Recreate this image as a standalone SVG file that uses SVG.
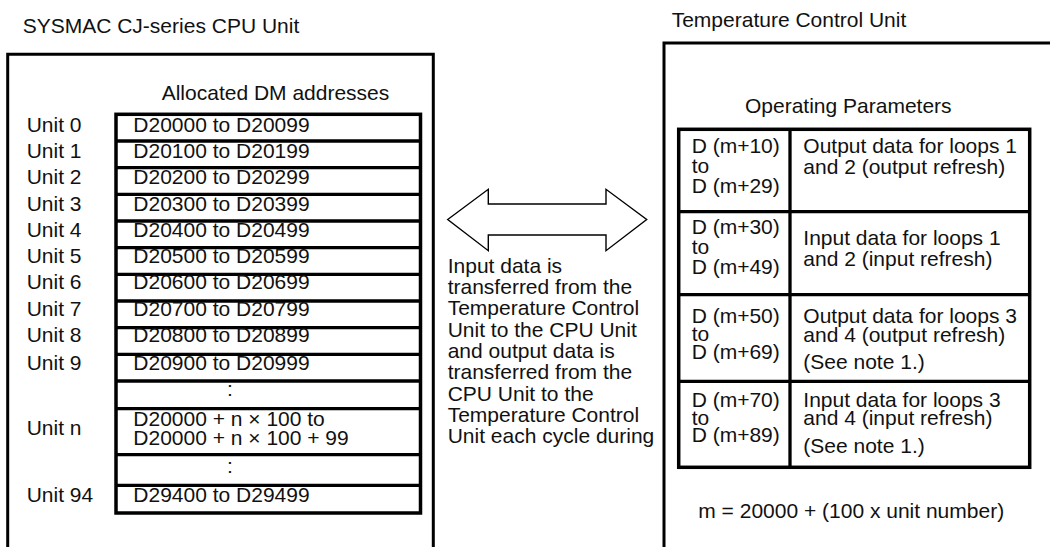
<svg xmlns="http://www.w3.org/2000/svg" width="1050" height="547" viewBox="0 0 1050 547">
<style>
text{font-family:"Liberation Sans",Arial,Helvetica,sans-serif;font-size:21px;fill:#111}
.box{fill:none;stroke:#000;stroke-width:3}
.tbl{fill:none;stroke:#000;stroke-width:3.5}
.sep{stroke:#000;stroke-width:3.3}
.arrow{fill:#fff;stroke:#000;stroke-width:1.4;stroke-linejoin:miter}
.mid{text-anchor:middle}
</style>
<rect width="1050" height="547" fill="#fff"/>

<g id="cpu-unit">
  <text x="22.7" y="33.3">SYSMAC CJ-series CPU Unit</text>
  <path class="box" d="M7.7,548 V54.3 H433.3 V548"/>
  <text x="161.7" y="100">Allocated DM addresses</text>
</g>

<g id="dm-table">
  <rect class="tbl" x="116" y="114.3" width="304.5" height="398.7"/>
  <g class="sep">
    <line x1="116" y1="141" x2="420.5" y2="141"/>
    <line x1="116" y1="167.7" x2="420.5" y2="167.7"/>
    <line x1="116" y1="194.3" x2="420.5" y2="194.3"/>
    <line x1="116" y1="221" x2="420.5" y2="221"/>
    <line x1="116" y1="247.7" x2="420.5" y2="247.7"/>
    <line x1="116" y1="274.3" x2="420.5" y2="274.3"/>
    <line x1="116" y1="301" x2="420.5" y2="301"/>
    <line x1="116" y1="327.7" x2="420.5" y2="327.7"/>
    <line x1="116" y1="354.3" x2="420.5" y2="354.3"/>
    <line x1="116" y1="381" x2="420.5" y2="381"/>
    <line x1="116" y1="408.7" x2="420.5" y2="408.7"/>
    <line x1="116" y1="454.7" x2="420.5" y2="454.7"/>
    <line x1="116" y1="485.3" x2="420.5" y2="485.3"/>
  </g>
  <text x="26.7" y="131.7">Unit 0</text><text x="133.3" y="131.7">D20000 to D20099</text>
  <text x="26.7" y="158">Unit 1</text><text x="133.3" y="158">D20100 to D20199</text>
  <text x="26.7" y="184.2">Unit 2</text><text x="133.3" y="184.2">D20200 to D20299</text>
  <text x="26.7" y="210.5">Unit 3</text><text x="133.3" y="210.5">D20300 to D20399</text>
  <text x="26.7" y="236.7">Unit 4</text><text x="133.3" y="236.7">D20400 to D20499</text>
  <text x="26.7" y="263">Unit 5</text><text x="133.3" y="263">D20500 to D20599</text>
  <text x="26.7" y="289.2">Unit 6</text><text x="133.3" y="289.2">D20600 to D20699</text>
  <text x="26.7" y="315.5">Unit 7</text><text x="133.3" y="315.5">D20700 to D20799</text>
  <text x="26.7" y="341.7">Unit 8</text><text x="133.3" y="341.7">D20800 to D20899</text>
  <text x="26.7" y="370">Unit 9</text><text x="133.3" y="370">D20900 to D20999</text>
  <text class="mid" x="230" y="396">:</text>
  <text x="26.7" y="435">Unit n</text>
  <text x="133.3" y="426">D20000 + n × 100 to</text>
  <text x="133.3" y="445">D20000 + n × 100 + 99</text>
  <text class="mid" x="230" y="473.3">:</text>
  <text x="26.7" y="502.3">Unit 94</text><text x="133.3" y="502.3">D29400 to D29499</text>
</g>

<g id="connectors">
  <path class="arrow" d="M447.7,219.5 L488.3,189.3 V204 H606 V189.3 L646.7,219.5 L606,250.7 V235 H488.3 V250.7 Z"/>
</g>

<g id="transfer-note">
  <text x="447.7" y="272.7">Input data is</text>
  <text x="447.7" y="294">transferred from the</text>
  <text x="447.7" y="315.3">Temperature Control</text>
  <text x="447.7" y="336.6">Unit to the CPU Unit</text>
  <text x="447.7" y="357.9">and output data is</text>
  <text x="447.7" y="379.2">transferred from the</text>
  <text x="447.7" y="400.5">CPU Unit to the</text>
  <text x="447.7" y="421.8">Temperature Control</text>
  <text x="447.7" y="443.1">Unit each cycle during</text>
</g>

<g id="temperature-control-unit">
  <text x="671.7" y="26.7">Temperature Control Unit</text>
  <path class="box" d="M664,548 V43 H1051"/>
  <text x="745" y="113.3">Operating Parameters</text>
</g>

<g id="parameters-table">
  <rect class="tbl" x="678.7" y="129.3" width="351" height="338"/>
  <g class="sep">
    <line x1="790" y1="129.3" x2="790" y2="467.3"/>
    <line x1="678.7" y1="211.7" x2="1029.7" y2="211.7"/>
    <line x1="678.7" y1="294.7" x2="1029.7" y2="294.7"/>
    <line x1="678.7" y1="381.3" x2="1029.7" y2="381.3"/>
  </g>
  <text x="691.7" y="153">D (m+10)</text>
  <text x="691.7" y="173">to</text>
  <text x="691.7" y="193">D (m+29)</text>
  <text x="803.3" y="153">Output data for loops 1</text>
  <text x="803.3" y="174">and 2 (output refresh)</text>

  <text x="691.7" y="234">D (m+30)</text>
  <text x="691.7" y="254">to</text>
  <text x="691.7" y="274">D (m+49)</text>
  <text x="803.3" y="245">Input data for loops 1</text>
  <text x="803.3" y="266">and 2 (input refresh)</text>

  <text x="691.7" y="323">D (m+50)</text>
  <text x="691.7" y="341">to</text>
  <text x="691.7" y="359">D (m+69)</text>
  <text x="803.3" y="323">Output data for loops 3</text>
  <text x="803.3" y="342">and 4 (output refresh)</text>
  <text x="803.3" y="369">(See note 1.)</text>

  <text x="691.7" y="406.5">D (m+70)</text>
  <text x="691.7" y="424.5">to</text>
  <text x="691.7" y="442">D (m+89)</text>
  <text x="803.3" y="406.5">Input data for loops 3</text>
  <text x="803.3" y="425">and 4 (input refresh)</text>
  <text x="803.3" y="453">(See note 1.)</text>
</g>

<g id="formula">
  <text x="698.3" y="518.3">m = 20000 + (100 x unit number)</text>
</g>
</svg>
